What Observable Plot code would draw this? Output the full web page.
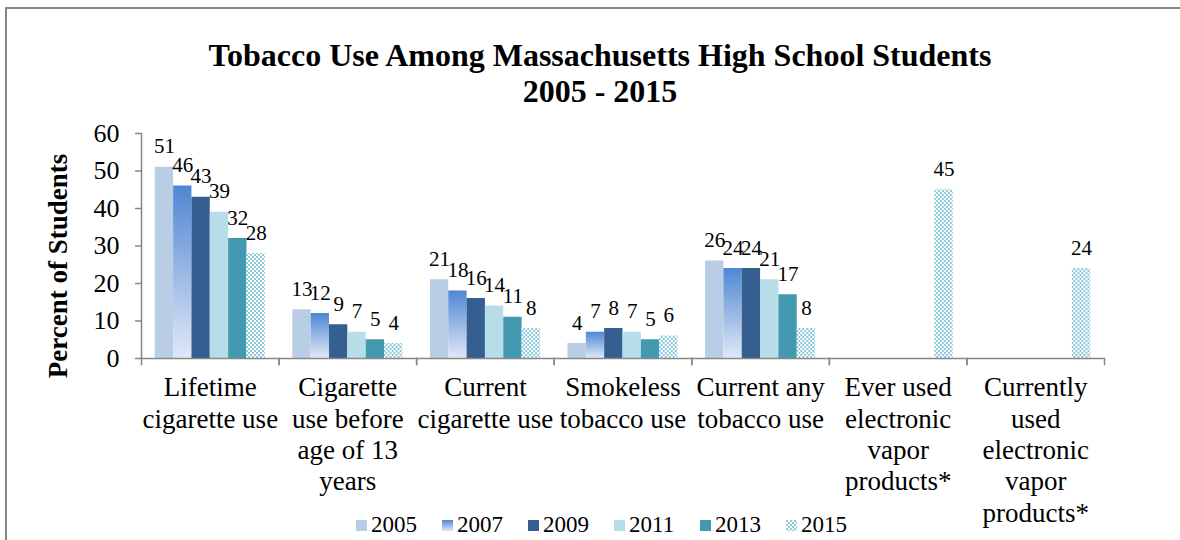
<!DOCTYPE html>
<html>
<head>
<meta charset="utf-8">
<script src="https://cdn.jsdelivr.net/npm/d3@7"></script>
<script src="https://cdn.jsdelivr.net/npm/@observablehq/plot@0.6"></script>
<style>
  body { margin: 0; background: #fff; }
  #wrap { position: relative; width: 1180px; height: 540px; overflow: hidden; font-family: "Liberation Serif", "DejaVu Serif", serif; color: #000; }
  #border { position: absolute; left: 5px; top: 7px; width: 1200px; height: 600px; border-left: 2px solid #878787; border-top: 2px solid #878787; }
  #title { position: absolute; left: 0; width: 1200px; top: 37px; text-align: center; font-weight: bold; font-size: 32px; line-height: 36px; }
  #ylabel { position: absolute; left: 58px; top: 266px; transform: translate(-50%, -50%) rotate(-90deg); font-weight: bold; font-size: 27px; white-space: nowrap; }
  #chart { position: absolute; left: 0; top: 0; }
  #legend { position: absolute; top: 513px; left: 356px; display: flex; font-size: 23px; line-height: 24px; }
  #legend .item { display: flex; align-items: center; width: 86px; }
  #legend svg { margin-right: 4px; }
  #chart svg text { font-family: "Liberation Serif", "DejaVu Serif", serif; }
</style>
</head>
<body>
<svg width="0" height="0" style="position:absolute">
  <defs>
    <linearGradient id="g2007" x1="0" y1="0" x2="0" y2="1">
      <stop offset="0" stop-color="#4f87d4"/>
      <stop offset="1" stop-color="#e0e8f6"/>
    </linearGradient>
    <pattern id="p2015" width="4" height="4" patternUnits="userSpaceOnUse">
      <rect width="4" height="4" fill="#ffffff"/>
      <rect width="2" height="2" fill="#8dc9db"/>
      <rect x="2" y="2" width="2" height="2" fill="#8dc9db"/>
    </pattern>
  </defs>
</svg>
<div id="wrap">
  <div id="border"></div>
  <div id="chart"></div>
  <div id="title">Tobacco Use Among Massachusetts High School Students<br>2005 - 2015</div>
  <div id="ylabel">Percent of Students</div>
  <div id="legend"></div>
</div>
<script>
const categories = [
  "Lifetime cigarette use",
  "Cigarette use before age of 13 years",
  "Current cigarette use",
  "Smokeless tobacco use",
  "Current any tobacco use",
  "Ever used electronic vapor products*",
  "Currently used electronic vapor products*"
];
const categoryLines = [
  ["Lifetime", "cigarette use"],
  ["Cigarette", "use before", "age of 13", "years"],
  ["Current", "cigarette use"],
  ["Smokeless", "tobacco use"],
  ["Current any", "tobacco use"],
  ["Ever used", "electronic", "vapor", "products*"],
  ["Currently", "used", "electronic", "vapor", "products*"]
];
const years = ["2005", "2007", "2009", "2011", "2013", "2015"];
const v2005 = [51, 13, 21, 4, 26, null, null];
const v2007 = [46, 12, 18, 7, 24, null, null];
const v2009 = [43, 9, 16, 8, 24, null, null];
const v2011 = [39, 7, 14, 7, 21, null, null];
const v2013 = [32, 5, 11, 5, 17, null, null];
const v2015 = [28, 4, 8, 6, 8, 45, 24];
const yTicks = [0, 10, 20, 30, 40, 50, 60];
const fills = ["#b9cde5", "url(#g2007)", "#365f91", "#b7dde8", "#4299b0", "url(#p2015)"];

const series = [v2005, v2007, v2009, v2011, v2013, v2015];
const data = [];
categories.forEach((c, i) => {
  years.forEach((y, j) => {
    const v = series[j][i];
    if (v != null) data.push({category: c, year: y, value: v});
  });
});

const W = 1180, H = 540;
const mTop = 133, mBottom = 182, mLeft = 141, mRight = 76;
const innerH = H - mTop - mBottom;
const axisColor = "#878787";
const serif = "'Liberation Serif', 'DejaVu Serif', serif";

const lineMap = new Map(categories.map((c, i) => [c, categoryLines[i].join("\n")]));

const chart = Plot.plot({
  width: W,
  height: H,
  marginTop: mTop,
  marginBottom: mBottom,
  marginLeft: mLeft,
  marginRight: mRight,
  style: {fontFamily: serif, color: "#000", background: "transparent", overflow: "visible"},
  fx: {domain: categories, padding: 0, round: false, axis: null, label: null},
  x: {domain: years, paddingInner: 0, paddingOuter: 0.75, round: false, axis: null},
  y: {domain: [0, 60], axis: null},
  color: {type: "ordinal", domain: years, range: fills},
  marks: [
    Plot.barY(data, {fx: "category", x: "year", y: "value", fill: "year"}),
    Plot.text(data, {fx: "category", x: "year", y: "value", text: d => String(d.value), lineAnchor: "bottom", dy: -14, fontSize: 21, fill: "#000", fontFamily: serif}),
    Plot.ruleY([0], {stroke: axisColor, strokeWidth: 1.5}),
    Plot.frame({anchor: "left", insetTop: innerH, insetBottom: -6, stroke: axisColor, strokeWidth: 1.5}),
    Plot.frame({anchor: "right", insetTop: innerH, insetBottom: -6, stroke: axisColor, strokeWidth: 1.5}),
    Plot.frame({anchor: "left", facetAnchor: "left", stroke: axisColor, strokeWidth: 1.5}),
    Plot.axisY(yTicks, {tickSize: 6, tickPadding: 16, fontSize: 26, stroke: axisColor, strokeWidth: 1.5, label: null, fill: "#000", fontFamily: serif}),
    Plot.axisFx({anchor: "bottom", tickSize: 0, tickPadding: 15.5, fontSize: 27, lineHeight: 1.16, label: null, tickFormat: d => lineMap.get(d), fill: "#000", fontFamily: serif})
  ]
});
document.getElementById("chart").appendChild(chart);

const legend = document.getElementById("legend");
years.forEach((y, i) => {
  const item = document.createElement("div");
  item.className = "item";
  item.innerHTML = `<svg width="11" height="11"><rect width="11" height="11" fill="${fills[i]}"/></svg><span>${y}</span>`;
  legend.appendChild(item);
});
</script>
</body>
</html>
